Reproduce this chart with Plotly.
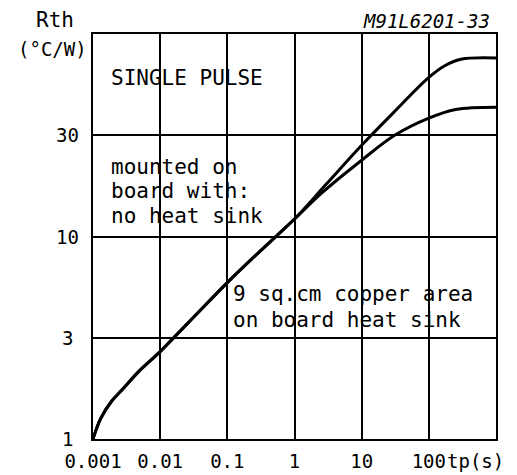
import math
import plotly.graph_objects as go

# ---- data ----
tp_short = [0.001, 0.0013, 0.0019, 0.0028, 0.0047, 0.01, 0.0157, 0.033, 0.1, 0.3, 1.0]
rth_short = [1.0, 1.26, 1.54, 1.77, 2.14, 2.70, 3.15, 4.06, 5.92, 8.4, 12.2]

tp_no_sink = [3, 10, 30, 100, 170, 300, 1000]
rth_no_sink = [18.2, 28.2, 41.0, 61.0, 69.5, 75.0, 76.1]

tp_copper = [2.6, 10, 31, 100, 250, 1000]
rth_copper = [16.5, 23.8, 31.6, 38.4, 42.4, 43.5]

x_tickvals = [0.001, 0.01, 0.1, 1, 10, 100, 1000]
x_ticktext = ["0.001", "0.01", "0.1", "1", "10", "100", ""]
y_tickvals = [1, 10 ** 0.5, 10, 10 ** 1.5, 100]
y_ticktext = ["1", "3", "10", "30", ""]

FONT = "DejaVu Sans Mono"
W, H = 517, 475
L, R, T, B = 93, 21, 34, 36
PW, PH = W - L - R, H - T - B


def px(xp):
    return (xp - L) / PW


def py(yp):
    return (H - B - yp) / PH


fig = go.Figure()
line = dict(color="black", width=3, shape="spline", smoothing=1.0)
fig.add_trace(go.Scatter(x=tp_short + tp_no_sink, y=rth_short + rth_no_sink,
                         mode="lines", line=line, name="no heat sink"))
fig.add_trace(go.Scatter(x=tp_short + tp_copper, y=rth_short + rth_copper,
                         mode="lines", line=line, name="9 sq.cm copper"))

axis_common = dict(showline=True, linecolor="black", linewidth=2, mirror=True,
                   showgrid=True, gridcolor="black", gridwidth=2, ticks="",
                   zeroline=False, automargin=False)
fig.update_xaxes(type="log", range=[-3, 3], tickvals=x_tickvals, ticktext=x_ticktext,
                 tickfont=dict(family=FONT, size=19, color="black"),
                 ticklabelstandoff=4, **axis_common)
fig.update_yaxes(type="log", range=[0, 2], tickvals=y_tickvals, showticklabels=False,
                 **axis_common)

# white boxes hiding the grid behind the text blocks
e = 0.004
boxes = [
    (0.0, px(290), py(105), py(57)),
    (0.0, 0.49, 0.5 + e, 0.75 - e),
    (1 / 3 + e, 1.0, 0.25 + e, 0.5 - e),
]
for x0, x1, y0, y1 in boxes:
    fig.add_shape(type="rect", xref="paper", yref="paper", x0=x0, x1=x1, y0=y0, y1=y1,
                  fillcolor="white", line=dict(width=0), layer="between")

ann = []
f = dict(family=FONT, size=21, color="black")
fy = dict(family=FONT, size=19, color="black")
for v, t in zip(y_tickvals, y_ticktext):
    if t:
        ann.append(dict(x=px(67), y=math.log10(v) / 2, xref="paper", yref="paper",
                        text=t, showarrow=False, xanchor="center", yanchor="middle",
                        font=fy))

texts = [
    ("SINGLE PULSE", 109, 78),
    ("mounted on", 109, 166.5),
    ("board with:", 109, 191),
    ("no heat sink", 109, 215.5),
    ("9 sq.cm copper area", 231, 294),
    ("on board heat sink", 231, 320),
]
for t, xp, yp in texts:
    ann.append(dict(x=px(xp), y=py(yp), xref="paper", yref="paper", text=t,
                    showarrow=False, xanchor="left", yanchor="middle", font=f))
ann.append(dict(x=px(55), y=py(20), xref="paper", yref="paper", text="Rth",
                showarrow=False, xanchor="center", yanchor="middle", font=f))
ann.append(dict(x=px(52), y=py(49), xref="paper", yref="paper", text="(°C/W)",
                showarrow=False, xanchor="center", yanchor="middle", font=fy))
ann.append(dict(x=px(445), y=py(461), xref="paper", yref="paper", text="tp(s)",
                showarrow=False, xanchor="left", yanchor="middle", font=fy))
ann.append(dict(x=px(492), y=py(21), xref="paper", yref="paper", text="M91L6201-33",
                showarrow=False, xanchor="right", yanchor="middle",
                font=dict(family=FONT, size=19, color="black", style="italic")))

fig.update_layout(width=W, height=H, margin=dict(l=L, r=R, t=T, b=B, autoexpand=False),
                  plot_bgcolor="white", paper_bgcolor="white", showlegend=False,
                  annotations=ann, font=dict(family=FONT, color="black"))

fig.write_html("out.html", config={"displayModeBar": False},
               post_script="document.body.style.margin='0';")
